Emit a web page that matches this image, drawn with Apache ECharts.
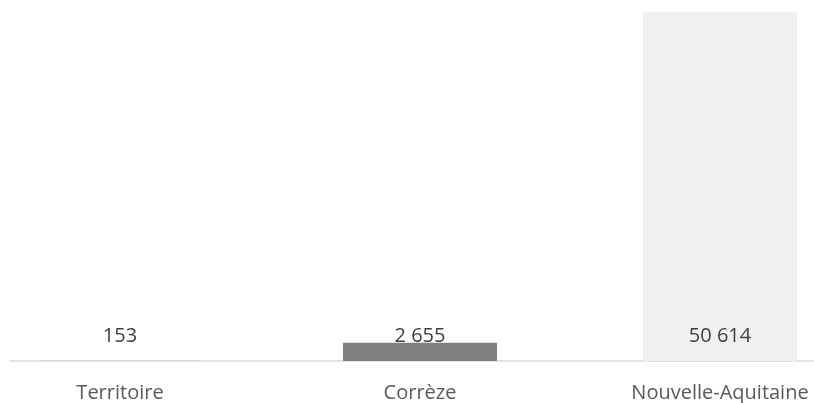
<!DOCTYPE html>
<html><head><meta charset="utf-8">
<script src="https://cdn.jsdelivr.net/npm/echarts@6/dist/echarts.min.js"></script>
<style>html,body{margin:0;padding:0;background:#fff}#c{width:814px;height:403px}</style>
</head><body><div id="c"></div>
<script>
const categories = ["Territoire", "Corrèze", "Nouvelle-Aquitaine"];
const values = [153, 2655, 50614];
const barColors = ["#d9d9d9", "#7f7f7f", "#f0f0f0"];

function fmt(v){ return String(v).replace(/\B(?=(\d{3})+(?!\d))/g, " "); }

const chart = echarts.init(document.getElementById('c'), null, {renderer:'canvas'});
chart.setOption({
  animation: false,
  grid: [
    {left: -30, width: 900, top: 12, bottom: 42, containLabel: false, outerBoundsMode: 'none'},
    {left: 10, right: -10, top: 361, height: 0, containLabel: false, outerBoundsMode: 'none'}
  ],
  xAxis: [
    {type: 'category', gridIndex: 0, data: categories,
     axisLine: {show: false}, axisTick: {show: false},
     axisLabel: {color: '#595959', fontFamily: 'Open Sans', fontSize: 20, margin: 22, hideOverlap: false}},
    {type: 'value', gridIndex: 1, min: 0, max: 1,
     axisLine: {show: true, lineStyle: {color: '#d9d9d9', width: 1.5}},
     axisTick: {show: false}, axisLabel: {show: false}, splitLine: {show: false}}
  ],
  yAxis: [
    {type: 'value', gridIndex: 0, min: 0, max: 'dataMax', show: false},
    {type: 'value', gridIndex: 1, show: false}
  ],
  series: [{
    type: 'bar', xAxisIndex: 0, yAxisIndex: 0,
    data: values.map((v, i) => ({value: v, itemStyle: {color: barColors[i]}})),
    barWidth: 154,
    label: {show: true, position: 'insideBottom', distance: 15,
      color: '#404040', fontFamily: 'Open Sans', fontSize: 20,
      formatter: p => fmt(p.value)}
  }]
});
</script></body></html>
